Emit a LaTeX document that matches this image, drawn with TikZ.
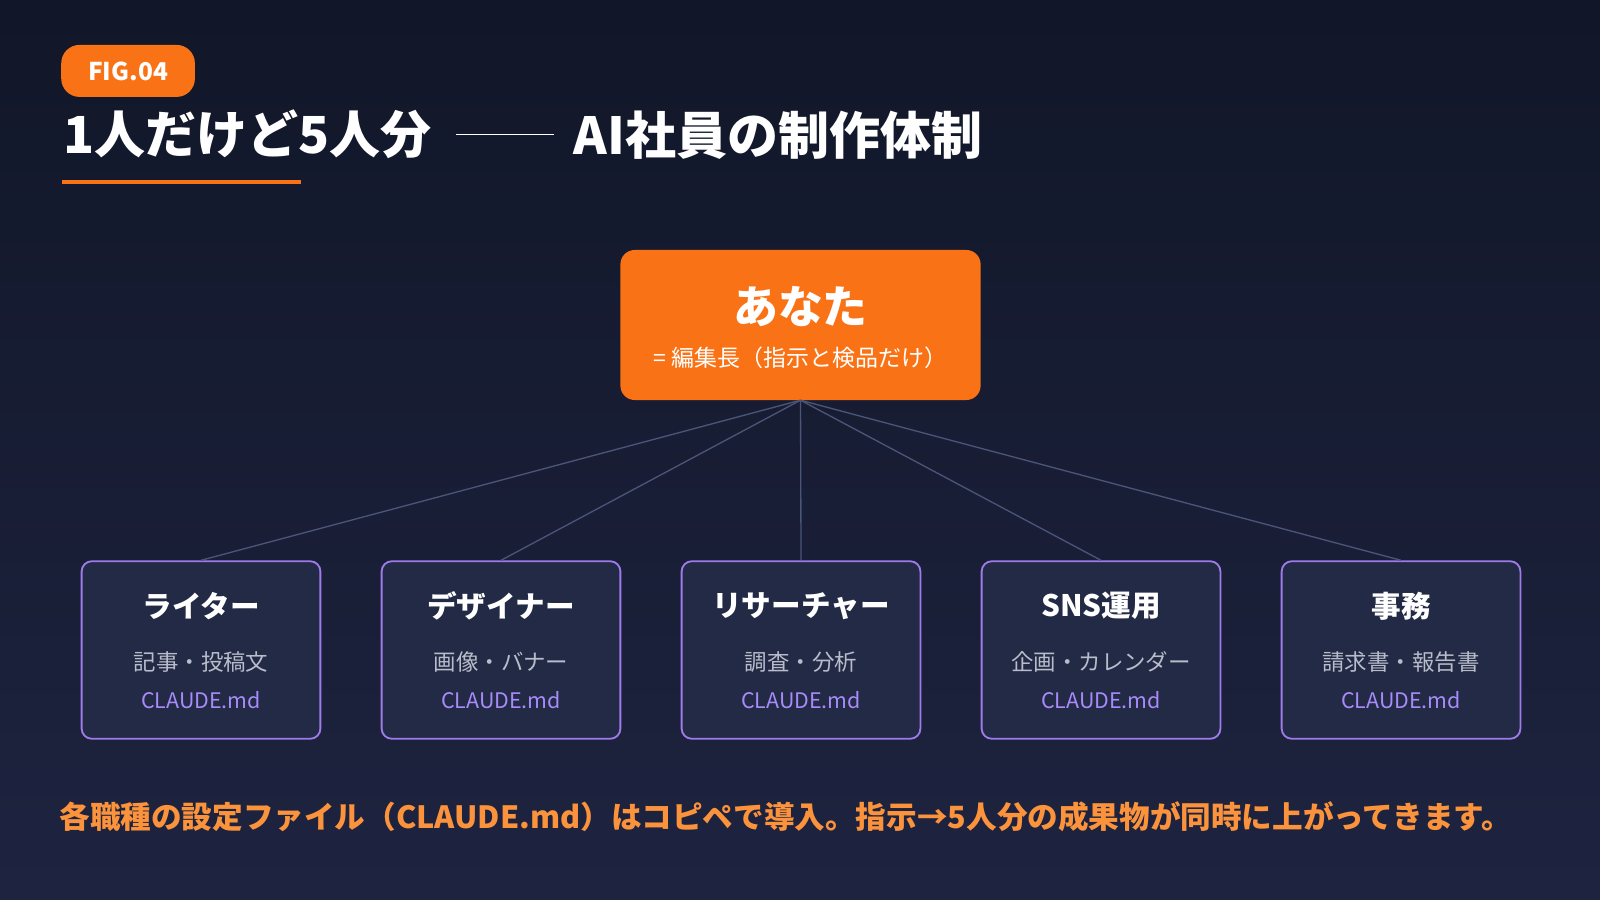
\documentclass[tikz,border=0pt]{standalone}
\usepackage{fontspec}
\setmainfont{Noto Sans CJK JP}
\usetikzlibrary{positioning}
\definecolor{bgtop}{HTML}{111728}
\definecolor{bgbot}{HTML}{1E2340}
\definecolor{accent}{HTML}{F97316}
\definecolor{boxfill}{HTML}{232A45}
\definecolor{boxline}{HTML}{9F7AEA}
\definecolor{wire}{HTML}{4B5578}
\definecolor{subgray}{HTML}{B8BCCB}
\definecolor{md}{HTML}{A78BFA}
\definecolor{foot}{HTML}{FB923C}
\tikzset{
  role/.style={rectangle, rounded corners=10pt, minimum width=234pt, minimum height=174pt, fill=boxfill, draw=boxline, line width=1.8pt},
  wireline/.style={draw=wire, line width=1.3pt},
}
\begin{document}
\begin{tikzpicture}[x=1pt,y=1pt]
\shade[top color=bgtop, bottom color=bgbot] (0,0) rectangle (1568,-882);
\useasboundingbox (0,0) rectangle (1568,-882);
% header
\node (fig) [rectangle, rounded corners=18pt, fill=accent, minimum width=131pt, minimum height=51pt, text=white, font=\fontsize{24}{24}\selectfont\bfseries] at (125.5pt,-69.5pt) {FIG.04};
\node (t1) [anchor=west, text=white, inner sep=0pt, font=\fontsize{50}{50}\selectfont\bfseries] at (62pt,-132pt) {1人だけど5人分};
\node (t2) [anchor=west, text=white, inner sep=0pt, font=\fontsize{50}{50}\selectfont\bfseries] at (562pt,-132pt) {AI社員の制作体制};
\draw [white, line width=1.5pt] (447pt,-132pt) -- (543pt,-132pt);
\draw [accent, line width=4pt] (61pt,-178pt) -- (295pt,-178pt);
% boss
\node (you) [rectangle, rounded corners=14pt, fill=accent, minimum width=353pt, minimum height=147pt] at (784.5pt,-318.5pt) {};
\node [text=white, font=\fontsize{44}{44}\selectfont\bfseries] at (784.5pt,-300pt) {あなた};
\node [text=white, font=\fontsize{22.5}{22.5}\selectfont] at (784.5pt,-351pt) {= 編集長（指示と検品だけ）};
% roles
\foreach \n/\cx/\title/\sub in {a/197/ライター/記事・投稿文, b/491/デザイナー/画像・バナー, c/785/リサーチャー/調査・分析, d/1079/SNS運用/企画・カレンダー, e/1373/事務/請求書・報告書}{
  \node (\n) [role] at (\cx pt,-637pt) {};
  \node [text=white, font=\fontsize{29}{29}\selectfont\bfseries] at (\cx pt,-594pt) {\title};
  \node [text=subgray, font=\fontsize{22}{22}\selectfont] at (\cx pt,-649pt) {\sub};
  \node [text=md, font=\fontsize{21}{21}\selectfont] at (\cx pt,-686pt) {CLAUDE.md};
  \draw [wireline] (you.south) -- (\n.north);
}
% footer
\node (note) [anchor=west, inner sep=0pt, text=foot, font=\fontsize{30}{30}\selectfont\bfseries] at (58pt,-800pt) {各職種の設定ファイル（CLAUDE.md）はコピペで導入。指示→5人分の成果物が同時に上がってきます。};
\end{tikzpicture}
\end{document}
